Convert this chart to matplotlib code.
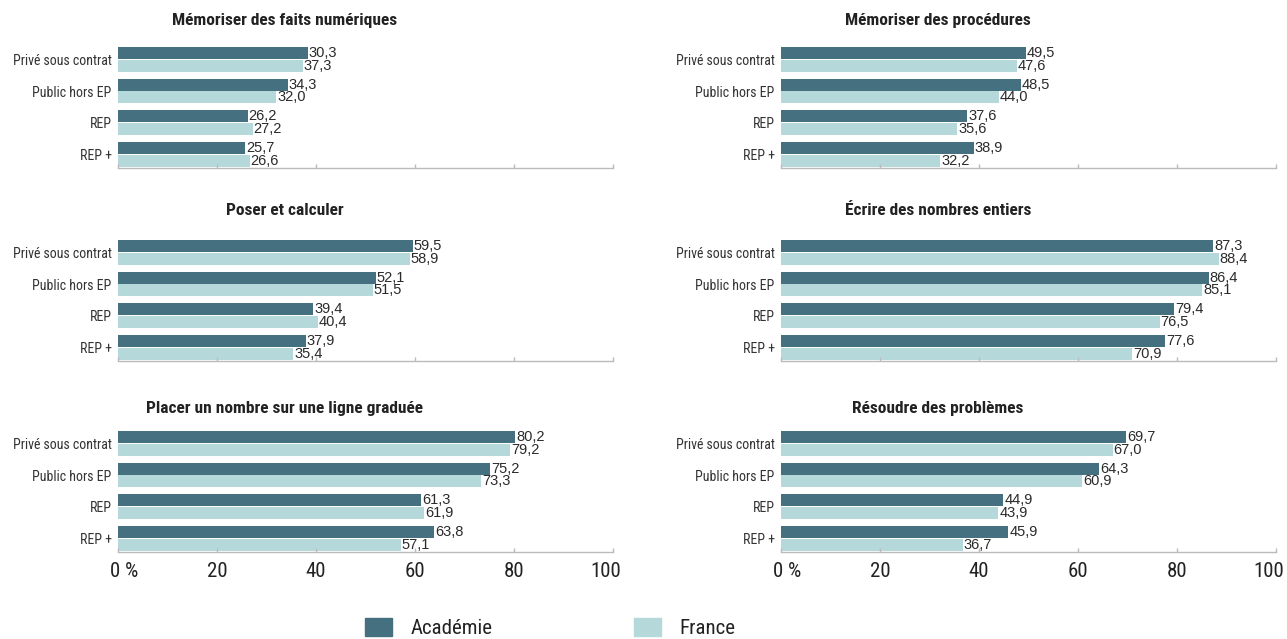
import numpy as np
import matplotlib
matplotlib.use('Agg')
import matplotlib.pyplot as plt
import matplotlib.transforms as mtransforms
from matplotlib import font_manager
from matplotlib.patches import Patch

categories = ['Privé sous contrat', 'Public hors EP', 'REP', 'REP +']
titles = ['Mémoriser des faits numériques', 'Mémoriser des procédures',
          'Poser et calculer', 'Écrire des nombres entiers',
          'Placer un nombre sur une ligne graduée', 'Résoudre des problèmes']

# bar lengths as drawn (first bar of the first panel is labelled 30,3 in the source)
memo_faits_acad = [38.3, 34.3, 26.2, 25.7]
memo_faits_fr = [37.3, 32.0, 27.2, 26.6]
memo_proc_acad = [49.5, 48.5, 37.6, 38.9]
memo_proc_fr = [47.6, 44.0, 35.6, 32.2]
poser_acad = [59.5, 52.1, 39.4, 37.9]
poser_fr = [58.9, 51.5, 40.4, 35.4]
ecrire_acad = [87.3, 86.4, 79.4, 77.6]
ecrire_fr = [88.4, 85.1, 76.5, 70.9]
placer_acad = [80.2, 75.2, 61.3, 63.8]
placer_fr = [79.2, 73.3, 61.9, 57.1]
resoudre_acad = [69.7, 64.3, 44.9, 45.9]
resoudre_fr = [67.0, 60.9, 43.9, 36.7]

label_override = {(0, 'acad', 0): '30,3'}

acad = [memo_faits_acad, memo_proc_acad, poser_acad, ecrire_acad, placer_acad, resoudre_acad]
france = [memo_faits_fr, memo_proc_fr, poser_fr, ecrire_fr, placer_fr, resoudre_fr]

xticks = [0, 20, 40, 60, 80, 100]
xticklabels = ['0 %', '20', '40', '60', '80', '100']

C_ACAD = '#44707f'
C_FR = '#b5d8db'

available = {f.name for f in font_manager.fontManager.ttflist}
font = 'DejaVu Sans'
for cand in ['Roboto Condensed', 'Archivo Narrow', 'Barlow Condensed', 'Asap Condensed']:
    if cand in available:
        font = cand
        break
plt.rcParams['font.family'] = [font, 'DejaVu Sans']
value_font = ['Liberation Sans', 'Arimo', 'DejaVu Sans']

W, H = 1287, 639
left_px = [118, 781]
width_px = 495
bottom_px = [168, 361, 552]
height_px = 122.9
title_x = [285, 938]
title_y = [20, 210, 408]


def fmt(v):
    return ('%.1f' % v).replace('.', ',')


fig = plt.figure(figsize=(W / 100, H / 100), dpi=100)

bh = 0.385
y = np.arange(len(categories))
for k in range(6):
    row, col = k // 2, k % 2
    ax = fig.add_axes([left_px[col] / W, 1 - bottom_px[row] / H, width_px / W, height_px / H])
    ax.barh(y - 0.2, acad[k], height=bh, color=C_ACAD)
    ax.barh(y + 0.2, france[k], height=bh, color=C_FR)
    for i in range(len(categories)):
        la = label_override.get((k, 'acad', i), fmt(acad[k][i]))
        ax.text(acad[k][i] + 0.2, y[i] - 0.2, la, va='center', ha='left',
                fontsize=10.5, color='#2a2a2a', family=value_font)
        ax.text(france[k][i] + 0.2, y[i] + 0.2, fmt(france[k][i]), va='center', ha='left',
                fontsize=10.5, color='#2a2a2a', family=value_font)
    ax.set_xlim(0, 100)
    ax.set_ylim(3.43, -0.45)
    ax.set_yticks(y, categories)
    ax.tick_params(axis='y', length=0, pad=4.5, labelsize=10, labelcolor='#333333')
    ax.set_xticks(xticks)
    ax.tick_params(axis='x', direction='in', length=3, width=1, color='#bbbbbb')
    if row == 2:
        ax.set_xticklabels(xticklabels)
        ax.tick_params(axis='x', labelsize=15, labelcolor='#222222', pad=7)
        labs = ax.get_xticklabels()
        labs[0].set_horizontalalignment('left')
        labs[0].set_transform(labs[0].get_transform() +
                              mtransforms.ScaledTranslation(-8 / 100, 0, fig.dpi_scale_trans))
        labs[-1].set_horizontalalignment('right')
        labs[-1].set_transform(labs[-1].get_transform() +
                               mtransforms.ScaledTranslation(8 / 100, 0, fig.dpi_scale_trans))
    else:
        ax.set_xticklabels([])
    for s in ['top', 'right', 'left']:
        ax.spines[s].set_visible(False)
    ax.spines['bottom'].set_color('#bbbbbb')
    ax.spines['bottom'].set_linewidth(1)
    fig.text(title_x[col] / W, 1 - title_y[row] / H, titles[k], ha='center', va='center',
             fontsize=12.5, fontweight='bold', color='#222222')

handles = [Patch(color=C_ACAD, label='Académie'), Patch(color=C_FR, label='France')]
fig.legend(handles=handles, loc='center left', bbox_to_anchor=(365 / W, 1 - 628 / H),
           ncol=2, frameon=False, fontsize=15, handlelength=1.3, handleheight=1.0,
           handletextpad=0.87, columnspacing=6.8, borderpad=0, borderaxespad=0,
           labelcolor='#222222')

fig.savefig('out.png', dpi=100)
